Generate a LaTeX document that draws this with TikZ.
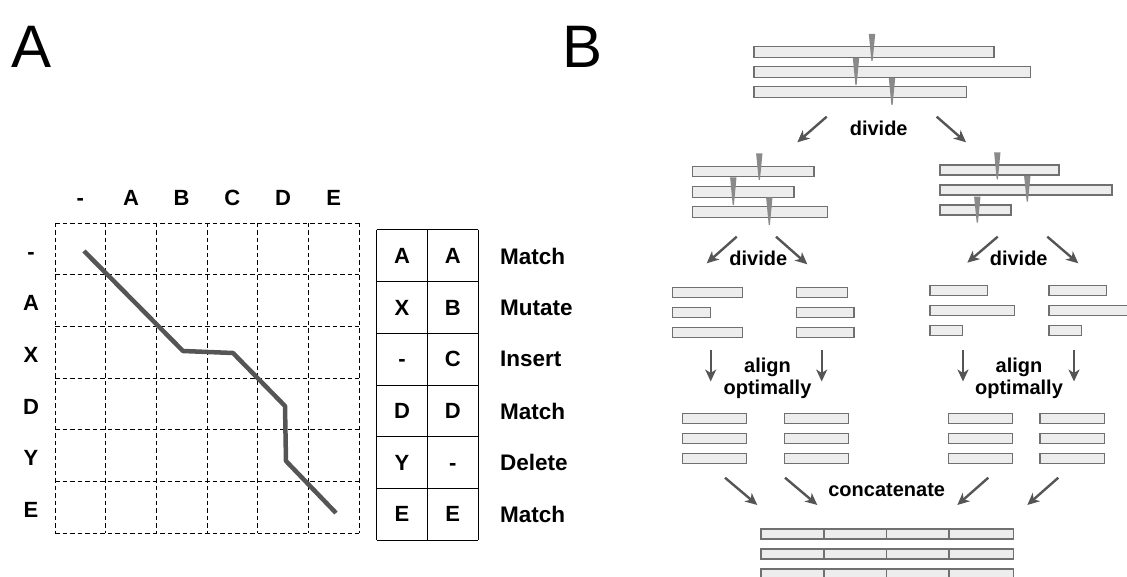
\documentclass[tikz,border=0pt]{standalone}
\usepackage{fontspec}
\setmainfont{Liberation Sans}
\usetikzlibrary{arrows.meta}
\definecolor{barfill}{HTML}{EDEDED}
\definecolor{bardraw}{HTML}{707070}
\definecolor{mkc}{HTML}{8A8A8A}
\definecolor{arrc}{HTML}{555555}
\definecolor{pathc}{HTML}{555555}
\newcommand{\mymarker}[3]{\fill[mkc] (#1-3.2,#2) -- (#1+3.2,#2) -- (#1+0.6,#3) -- (#1-0.6,#3) -- cycle;}
\begin{document}
\begin{tikzpicture}[x=1pt,y=-1pt,
  bar/.style={fill=barfill,draw=bardraw,line width=1.1pt},
  arw/.style={draw=arrc,line width=2.4pt,-{Stealth[length=12pt,width=11pt,inset=3.5pt]}},
  lbl/.style={font=\fontsize{20}{22}\selectfont\bfseries,inner sep=0pt},
  hdr/.style={font=\fontsize{22}{24}\selectfont\bfseries,inner sep=0pt},
  tab/.style={font=\fontsize{22}{24}\selectfont\bfseries,inner sep=0pt},
  opl/.style={font=\fontsize{22.5}{26}\selectfont\bfseries,inner sep=0pt,anchor=west},
  gridl/.style={draw=black,line width=0.9pt,dash pattern=on 4.5pt off 3pt},
  panel/.style={font=\fontsize{60}{70}\selectfont,inner sep=0pt,anchor=base west}]
\useasboundingbox (0,0) rectangle (1127,577);
\clip (0,0) rectangle (1127,577);
% panel labels
\node[panel] (pA) at (11,68) {A};
\node[panel] (pB) at (562,68) {B};
% ===== Panel A: grid =====
\foreach \i in {0,...,6} {
  \draw[gridl] (55+50.67*\i,223) -- (55+50.67*\i,533);
  \draw[gridl] (55,223+51.67*\i) -- (359,223+51.67*\i);
}
\foreach \t [count=\i from 0] in {-,A,B,C,D,E}
  \node[hdr] (col\i) at (80.3+50.67*\i,198) {\vphantom{A}\t};
\foreach \t [count=\i from 0] in {-,A,X,D,Y,E}
  \node[hdr] (row\i) at (31,251.5+51.67*\i) {\vphantom{A}\t};
\draw[pathc,line width=4.5pt,line join=round] (84,251) -- (183,351) -- (233,353) -- (285,406) -- (286,461) -- (336,513);
% table
\foreach \i in {0,...,6}
  \draw[black,line width=1pt] (376.5,230+51.67*\i) -- (478,230+51.67*\i);
\foreach \x in {376.5,427.3,478}
  \draw[black,line width=1pt] (\x,230) -- (\x,540);
\foreach \a/\b/\c [count=\i from 0] in {A/A/Match,X/B/Mutate,-/C/Insert,D/D/Match,Y/-/Delete,E/E/Match} {
  \node[tab] (ta\i) at (402,256+51.67*\i) {\vphantom{A}\a};
  \node[tab] (tb\i) at (452.7,256+51.67*\i) {\vphantom{A}\b};
  \node[opl] (op\i) at (500,256+51.67*\i) {\vphantom{A}\c};
}
% ===== Panel B =====
% level 1
\draw[bar] (754,46.7) rectangle (994,57.3);
\draw[bar] (754,66.7) rectangle (1030.7,77.3);
\draw[bar] (754,86.7) rectangle (966.7,97.3);
\mymarker{872}{34}{61}
\mymarker{856}{58}{85}
\mymarker{892}{78}{105}
\draw[arw] (826.7,116.7) -- (797.3,142.3);
\draw[arw] (936.7,116.7) -- (966,142.3);
\node[lbl] (d1) at (878.7,128) {divide};
% level 2 left
\draw[bar] (692.3,166.7) rectangle (814,176.7);
\draw[bar] (692.3,186.7) rectangle (794,197.3);
\draw[bar] (692.3,206.7) rectangle (827.3,217.3);
\mymarker{759.3}{153.3}{180}
\mymarker{733.3}{177.3}{205}
\mymarker{769.3}{197.3}{225}
% level 2 right
\draw[bar] (940,165) rectangle (1059,175);
\draw[bar] (940,185) rectangle (1112,195);
\draw[bar] (940,205) rectangle (1011,215);
\mymarker{997.3}{152.3}{179.3}
\mymarker{1027.3}{176}{201.7}
\mymarker{977.3}{196.7}{222.7}
% divide arrows level 2
\draw[arw] (736.7,236.7) -- (706.7,263.3);
\draw[arw] (776,236.7) -- (807.3,264.3);
\draw[arw] (997.7,236.7) -- (967.3,262.7);
\draw[arw] (1047.3,236.7) -- (1078.3,263.3);
\node[lbl] (d2) at (758.3,258) {divide};
\node[lbl] (d3) at (1018.7,258) {divide};
% level 3
\draw[bar] (672.3,287.3) rectangle (742.7,297.3);
\draw[bar] (672.3,307.3) rectangle (710.7,317.3);
\draw[bar] (672.3,327.3) rectangle (742.7,337.3);
\draw[bar] (796.7,287.3) rectangle (847.3,297.3);
\draw[bar] (796.7,307.3) rectangle (854,317.3);
\draw[bar] (796.7,327.3) rectangle (854,337.3);
\draw[bar] (930,285.7) rectangle (987.7,295.7);
\draw[bar] (930,305.7) rectangle (1014.3,315.7);
\draw[bar] (930,325.7) rectangle (962.3,335.7);
\draw[bar] (1049,285.7) rectangle (1106.7,295.7);
\draw[bar] (1049,305.7) rectangle (1140,315.7);
\draw[bar] (1049,325.7) rectangle (1081.7,335.7);
% align arrows
\draw[arw] (710.7,350) -- (710.7,381.5);
\draw[arw] (821.7,350) -- (821.7,381.5);
\draw[arw] (963,350) -- (963,381.5);
\draw[arw] (1074,350) -- (1074,381.5);
\node[lbl,anchor=base] (al1) at (767.5,372) {align};
\node[lbl,anchor=base] (op1) at (767.5,394) {optimally};
\node[lbl,anchor=base] (al2) at (1019,372) {align};
\node[lbl,anchor=base] (op2) at (1019,394) {optimally};
% level 4
\foreach \xa/\xb in {682.3/746.7,784.3/848.7,948.3/1012.3,1040/1104.3}
  \foreach \ya/\yb in {413.3/423.3,433.3/443.3,453.3/463.3}
    \draw[bar] (\xa,\ya) rectangle (\xb,\yb);
\draw[arw] (725,477.7) -- (757.3,505);
\draw[arw] (785,477.7) -- (817.3,505);
\draw[arw] (988.3,477.7) -- (957.3,505);
\draw[arw] (1058.3,477.7) -- (1027.3,505);
\node[lbl] (cc) at (886.7,490) {concatenate};
% final
\foreach \ya/\yb in {529/539,549/559,569/582} {
  \draw[bar] (761,\ya) rectangle (1013.3,\yb);
  \foreach \x in {824,886.7,949}
    \draw[bardraw,line width=1.1pt] (\x,\ya) -- (\x,\yb);
}
\end{tikzpicture}
\end{document}
